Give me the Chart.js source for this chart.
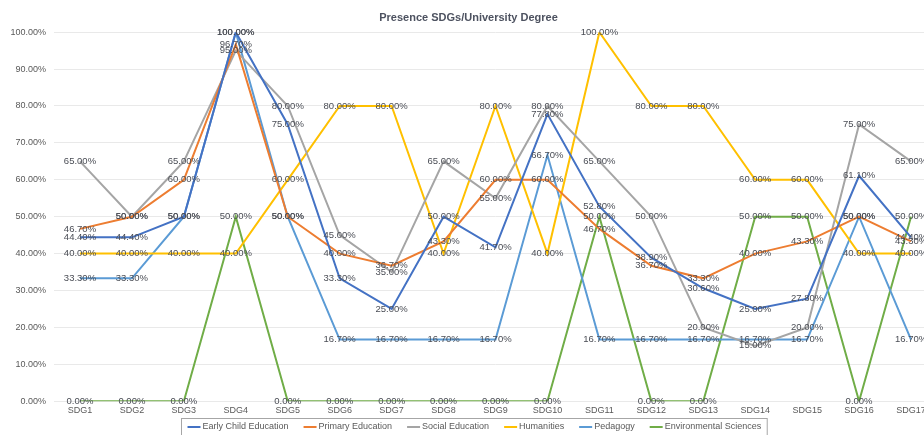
<!DOCTYPE html>
<html>
<head>
<meta charset="utf-8">
<title>Presence SDGs/University Degree</title>
<script src="https://cdn.jsdelivr.net/npm/chart.js@4.4.1/dist/chart.umd.min.js"></script>
<style>
  html, body { margin: 0; padding: 0; overflow: hidden; background: #fff; }
  #wrap { width: 924px; height: 435px; overflow: hidden; }
  canvas { display: block; }
</style>
</head>
<body>
<div id="wrap">
  <canvas id="lineChart" width="948" height="450"></canvas>
</div>
<script>
var sdgLabels = ["SDG1", "SDG2", "SDG3", "SDG4", "SDG5", "SDG6", "SDG7", "SDG8", "SDG9",
                 "SDG10", "SDG11", "SDG12", "SDG13", "SDG14", "SDG15", "SDG16", "SDG17"];

// percentages per degree
var earlyChild    = [44.4, 44.4, 50, 100, 75, 33.3, 25, 50, 41.7, 77.8, 52.8, 38.9, 30.6, 25, 27.8, 61.1, 44.4];
var primaryEdu    = [46.7, 50, 60, 96.7, 50, 40, 36.7, 43.3, 60, 60, 46.7, 36.7, 33.3, 40, 43.3, 50, 43.3];
var socialEdu     = [65, 50, 65, 95, 80, 45, 35, 65, 55, 80, 65, 50, 20, 15, 20, 75, 65];
var humanities    = [40, 40, 40, 40, 60, 80, 80, 40, 80, 40, 100, 80, 80, 60, 60, 40, 40];
var pedagogy      = [33.3, 33.3, 50, 100, 50, 16.7, 16.7, 16.7, 16.7, 66.7, 16.7, 16.7, 16.7, 16.7, 16.7, 50, 16.7];
var envSciences   = [0, 0, 0, 50, 0, 0, 0, 0, 0, 0, 50, 0, 0, 50, 50, 0, 50];

var seriesNames  = ["Early Child Education", "Primary Education", "Social Education",
                    "Humanities", "Pedagogy", "Environmental Sciences"];
var seriesColors = ["#4472C4", "#ED7D31", "#A5A5A5", "#FFC000", "#5B9BD5", "#70AD47"];
var seriesData   = [earlyChild, primaryEdu, socialEdu, humanities, pedagogy, envSciences];

var FONT = "'Liberation Sans', Arial, sans-serif";

function pct(v) {
  return v.toFixed(2) + "%";
}

// value labels sit centred on each point, drawn series by series
var pointLabels = {
  id: "pointLabels",
  afterDatasetsDraw: function(chart) {
    var ctx = chart.ctx;
    ctx.save();
    ctx.font = "9.5px " + FONT;
    ctx.fillStyle = "#4a4d55";
    ctx.textAlign = "center";
    ctx.textBaseline = "middle";
    chart.data.datasets.forEach(function(ds, i) {
      var meta = chart.getDatasetMeta(i);
      meta.data.forEach(function(pt, j) {
        ctx.fillText(pct(ds.data[j]), pt.x, pt.y);
      });
    });
    ctx.restore();
  }
};

// boxed legend with short line markers under the axis
var boxLegend = {
  id: "boxLegend",
  afterDraw: function(chart) {
    var ctx = chart.ctx;
    var markW = 13, markGap = 2, itemGap = 15, padX = 6;
    ctx.save();
    ctx.font = "9px " + FONT;
    var widths = seriesNames.map(function(n) { return ctx.measureText(n).width; });
    var total = padX * 2;
    widths.forEach(function(w, i) {
      total += markW + markGap + w + (i > 0 ? itemGap : 0);
    });
    var left = Math.round(chart.width / 2 - total / 2) + 0.5;
    var top = 418.5;
    var midY = 427;
    ctx.strokeStyle = "#a6a6a6";
    ctx.lineWidth = 1;
    ctx.strokeRect(left, top, total, 20);

    var x = left + padX;
    ctx.textBaseline = "middle";
    ctx.fillStyle = "#595959";
    seriesNames.forEach(function(n, i) {
      ctx.strokeStyle = seriesColors[i];
      ctx.lineWidth = 2;
      ctx.beginPath();
      ctx.moveTo(x, midY);
      ctx.lineTo(x + markW, midY);
      ctx.stroke();
      ctx.fillText(n, x + markW + markGap, midY);
      x += markW + markGap + widths[i] + itemGap;
    });
    ctx.restore();
  }
};

var datasets = [];
for (var i = 0; i < seriesNames.length; i++) {
  datasets.push({
    label: seriesNames[i],
    data: seriesData[i],
    borderColor: seriesColors[i],
    backgroundColor: seriesColors[i],
    borderWidth: 2,
    pointRadius: 0,
    pointHoverRadius: 0,
    tension: 0,
    fill: false
  });
}

var ctxL = document.getElementById("lineChart").getContext("2d");
var myLineChart = new Chart(ctxL, {
  type: "line",
  data: {
    labels: sdgLabels,
    datasets: datasets
  },
  options: {
    responsive: false,
    animation: false,
    layout: {
      padding: { left: 0, right: 11, top: 0, bottom: 30 }
    },
    plugins: {
      legend: { display: false },
      tooltip: { enabled: false },
      title: {
        display: true,
        text: "Presence SDGs/University Degree",
        color: "#4d5260",
        font: { family: FONT, size: 11, weight: "bold" },
        padding: { top: 11, bottom: 8 }
      }
    },
    scales: {
      x: {
        offset: true,
        grid: { display: false, drawTicks: false },
        border: { display: false },
        ticks: {
          color: "#595959",
          font: { family: FONT, size: 9 },
          padding: 4,
          maxRotation: 0,
          autoSkip: false
        }
      },
      y: {
        min: 0,
        max: 100,
        afterFit: function(scale) { scale.width = 54; },
        grid: { color: "#e9e9e9", drawTicks: false },
        border: { display: false },
        ticks: {
          stepSize: 10,
          color: "#595959",
          font: { family: FONT, size: 9 },
          padding: 8,
          callback: function(v) { return pct(v); }
        }
      }
    }
  },
  plugins: [pointLabels, boxLegend]
});
</script>
</body>
</html>
